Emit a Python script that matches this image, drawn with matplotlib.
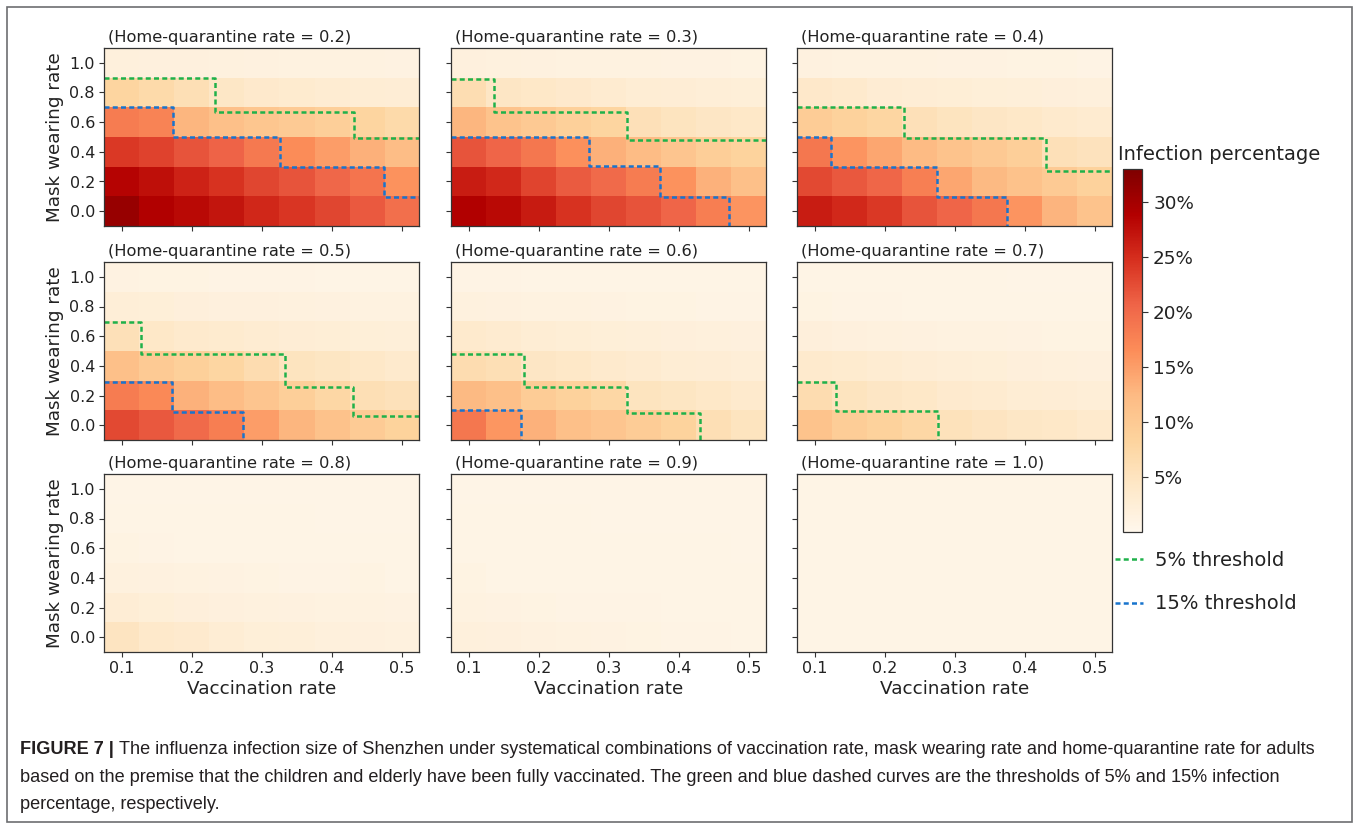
import numpy as np
import matplotlib
matplotlib.use("Agg")
import matplotlib.pyplot as plt
from matplotlib.lines import Line2D
from matplotlib.patches import Rectangle

# Eixos dos mapas de calor
vacc_rate = [0.1, 0.15, 0.2, 0.25, 0.3, 0.35, 0.4, 0.45, 0.5]
mask_rate = [0.0, 0.2, 0.4, 0.6, 0.8, 1.0]
hq_rates = [0.2, 0.3, 0.4, 0.5, 0.6, 0.7, 0.8, 0.9, 1.0]

# Percentual de infecção (linhas = máscara 0.0 -> 1.0, colunas = vacinação 0.1 -> 0.5)
inf_hq02 = [
    [31.0, 29.0, 28.0, 27.0, 25.5, 24.3, 23.0, 21.5, 19.5],
    [28.5, 27.5, 25.8, 24.5, 23.0, 21.8, 20.3, 19.0, 16.0],
    [24.0, 23.3, 21.8, 20.7, 18.5, 16.5, 15.0, 13.3, 12.0],
    [18.2, 17.5, 12.8, 11.5, 10.5, 9.8, 9.0, 8.0, 7.0],
    [8.0, 7.0, 6.0, 4.3, 3.7, 3.3, 3.0, 2.8, 2.6],
    [1.9, 1.8, 1.7, 1.6, 1.5, 1.4, 1.3, 1.3, 1.2],
]
inf_hq03 = [
    [29.0, 28.0, 26.5, 24.6, 23.0, 22.0, 20.5, 18.0, 15.8],
    [26.3, 25.3, 23.2, 21.3, 20.0, 18.3, 16.0, 13.2, 11.5],
    [21.8, 20.6, 18.8, 16.2, 13.3, 12.2, 10.6, 9.2, 8.3],
    [12.8, 11.0, 10.0, 8.8, 8.1, 5.8, 5.0, 4.5, 4.0],
    [6.2, 4.4, 4.0, 3.7, 3.1, 2.8, 2.6, 2.4, 2.2],
    [1.7, 1.6, 1.5, 1.4, 1.3, 1.3, 1.2, 1.2, 1.1],
]
inf_hq04 = [
    [26.4, 25.3, 24.0, 21.8, 20.6, 18.8, 15.8, 12.9, 11.0],
    [22.8, 21.6, 20.4, 17.8, 14.3, 12.5, 11.2, 9.8, 8.6],
    [18.8, 15.8, 14.3, 12.3, 11.0, 10.0, 9.0, 5.8, 5.2],
    [9.5, 8.6, 7.8, 5.8, 5.0, 4.5, 4.0, 3.5, 3.1],
    [3.9, 3.5, 2.9, 2.7, 2.5, 2.3, 2.1, 2.0, 1.9],
    [1.5, 1.4, 1.3, 1.3, 1.2, 1.2, 1.1, 1.1, 1.0],
]
inf_hq05 = [
    [22.8, 21.6, 20.0, 18.0, 15.0, 12.8, 11.2, 9.6, 8.5],
    [18.3, 16.8, 13.2, 12.0, 10.6, 9.0, 7.5, 6.0, 5.5],
    [11.5, 9.8, 8.8, 7.8, 6.5, 5.0, 4.6, 4.0, 3.6],
    [5.8, 4.0, 3.6, 3.3, 3.0, 2.7, 2.5, 2.3, 2.1],
    [2.4, 2.2, 2.0, 1.8, 1.7, 1.6, 1.5, 1.4, 1.3],
    [1.2, 1.1, 1.1, 1.0, 1.0, 1.0, 0.9, 0.9, 0.9],
]
inf_hq06 = [
    [18.8, 15.6, 13.2, 11.5, 10.6, 9.5, 8.3, 6.0, 5.0],
    [12.5, 11.5, 9.5, 8.6, 7.5, 5.0, 4.6, 4.0, 3.6],
    [6.5, 6.0, 4.4, 4.0, 3.5, 3.1, 2.8, 2.6, 2.4],
    [3.6, 3.2, 2.8, 2.5, 2.3, 2.1, 2.0, 1.9, 1.8],
    [1.6, 1.5, 1.4, 1.3, 1.2, 1.1, 1.1, 1.0, 1.0],
    [1.0, 1.0, 0.9, 0.9, 0.9, 0.8, 0.8, 0.8, 0.8],
]
inf_hq07 = [
    [11.0, 9.3, 8.6, 7.6, 5.4, 4.8, 4.3, 4.0, 3.6],
    [6.5, 4.9, 4.4, 4.0, 3.4, 3.1, 2.8, 2.6, 2.4],
    [3.6, 3.3, 3.0, 2.7, 2.4, 2.2, 2.0, 1.9, 1.8],
    [2.0, 1.8, 1.6, 1.5, 1.4, 1.3, 1.2, 1.1, 1.1],
    [1.1, 1.0, 1.0, 0.9, 0.9, 0.9, 0.8, 0.8, 0.8],
    [0.8, 0.8, 0.8, 0.8, 0.8, 0.8, 0.7, 0.7, 0.7],
]
inf_hq08 = [
    [4.8, 3.8, 3.4, 2.8, 2.3, 2.1, 1.9, 1.7, 1.6],
    [2.6, 2.3, 2.0, 1.8, 1.6, 1.5, 1.4, 1.3, 1.2],
    [1.6, 1.5, 1.4, 1.2, 1.1, 1.0, 1.0, 1.1, 0.9],
    [1.1, 1.0, 0.9, 0.9, 0.9, 0.8, 0.8, 0.8, 0.8],
    [0.9, 0.8, 0.8, 0.8, 0.8, 0.8, 0.7, 0.7, 0.7],
    [0.7, 0.7, 0.7, 0.7, 0.7, 0.7, 0.7, 0.7, 0.7],
]
inf_hq09 = [
    [1.9, 1.7, 1.5, 1.4, 1.2, 1.1, 1.0, 1.0, 0.9],
    [1.4, 1.2, 1.1, 1.0, 1.0, 1.0, 0.9, 0.9, 0.9],
    [1.1, 0.9, 0.9, 0.9, 0.8, 0.8, 0.8, 0.8, 0.8],
    [0.9, 0.8, 0.8, 0.8, 0.8, 0.8, 0.8, 0.8, 0.7],
    [0.8, 0.8, 0.8, 0.8, 0.7, 0.7, 0.7, 0.7, 0.7],
    [0.7, 0.7, 0.7, 0.7, 0.7, 0.7, 0.7, 0.7, 0.7],
]
inf_hq10 = [
    [0.9, 0.9, 0.9, 0.9, 0.9, 0.8, 0.8, 0.8, 0.8],
    [0.8, 0.8, 0.8, 0.8, 0.8, 0.8, 0.8, 0.8, 0.8],
    [0.8, 0.8, 0.8, 0.8, 0.8, 0.8, 0.8, 0.8, 0.8],
    [0.8, 0.8, 0.8, 0.8, 0.8, 0.8, 0.8, 0.8, 0.8],
    [0.8, 0.8, 0.8, 0.8, 0.8, 0.8, 0.8, 0.8, 0.8],
    [0.8, 0.8, 0.8, 0.8, 0.8, 0.8, 0.8, 0.8, 0.8],
]
infection = [inf_hq02, inf_hq03, inf_hq04, inf_hq05, inf_hq06,
             inf_hq07, inf_hq08, inf_hq09, inf_hq10]

# Curvas de limiar (degraus, drawstyle steps-post): vacinação x máscara
thr5_x = [
    [0.075, 0.234, 0.432, 0.525],
    [0.075, 0.136, 0.327, 0.525],
    [0.075, 0.228, 0.430, 0.525],
    [0.075, 0.128, 0.333, 0.430, 0.525],
    [0.075, 0.179, 0.327, 0.430, 0.430],
    [0.075, 0.130, 0.277, 0.277],
    None, None, None,
]
thr5_y = [
    [0.900, 0.670, 0.494, 0.494],
    [0.894, 0.666, 0.483, 0.483],
    [0.700, 0.490, 0.273, 0.273],
    [0.694, 0.483, 0.260, 0.065, 0.065],
    [0.479, 0.254, 0.083, -0.1, -0.1],
    [0.292, 0.097, -0.1, -0.1],
    None, None, None,
]
thr15_x = [
    [0.075, 0.173, 0.326, 0.475, 0.525],
    [0.075, 0.272, 0.373, 0.472, 0.472],
    [0.075, 0.124, 0.275, 0.375, 0.375],
    [0.075, 0.172, 0.274, 0.274],
    [0.075, 0.175, 0.175],
    None, None, None, None,
]
thr15_y = [
    [0.700, 0.497, 0.300, 0.097, 0.097],
    [0.497, 0.302, 0.097, -0.1, -0.1],
    [0.500, 0.300, 0.097, -0.1, -0.1],
    [0.290, 0.088, -0.1, -0.1],
    [0.099, -0.1, -0.1],
    None, None, None, None,
]

cbar_ticks = [5, 10, 15, 20, 25, 30]
green = "#1fb14a"
blue = "#1874cd"

W, H = 1357, 823
fig = plt.figure(figsize=(W / 100, H / 100), dpi=100)
plt.rcParams["font.family"] = "DejaVu Sans"

col_left = [104, 451, 797]
row_top = [48, 262, 474]
ax_w, ax_h = 315, 178

dx = (vacc_rate[1] - vacc_rate[0]) / 2
dy = (mask_rate[1] - mask_rate[0]) / 2
extent = [vacc_rate[0] - dx, vacc_rate[-1] + dx, mask_rate[0] - dy, mask_rate[-1] + dy]

dash = (0, (2.0, 1.3))
for k in range(9):
    r, c = divmod(k, 3)
    ax = fig.add_axes([col_left[c] / W, 1 - (row_top[r] + ax_h) / H, ax_w / W, ax_h / H])
    im = ax.imshow(np.array(infection[k]), origin="lower", extent=extent, aspect="auto",
                   cmap="OrRd", vmin=0, vmax=33, interpolation="nearest")
    if thr5_x[k] is not None:
        ax.plot(thr5_x[k], thr5_y[k], drawstyle="steps-post", color=green, lw=1.8, linestyle=dash)
    if thr15_x[k] is not None:
        ax.plot(thr15_x[k], thr15_y[k], drawstyle="steps-post", color=blue, lw=1.8, linestyle=dash)
    ax.set_xlim(extent[0], extent[1])
    ax.set_ylim(extent[2], extent[3])
    ax.set_xticks([0.1, 0.2, 0.3, 0.4, 0.5])
    ax.set_yticks([0.0, 0.2, 0.4, 0.6, 0.8, 1.0])
    ax.tick_params(direction="out", length=3.5, width=0.8, color="#333333",
                   labelsize=11.5, labelcolor="#222222", pad=3)
    if c == 0:
        ax.set_yticklabels(["%.1f" % v for v in [0.0, 0.2, 0.4, 0.6, 0.8, 1.0]])
        ax.set_ylabel("Mask wearing rate", fontsize=13.2, color="#222222", labelpad=4)
    else:
        ax.set_yticklabels([])
    if r == 2:
        ax.set_xticklabels(["%.1f" % v for v in [0.1, 0.2, 0.3, 0.4, 0.5]])
        ax.set_xlabel("Vaccination rate", fontsize=13.2, color="#222222", labelpad=3)
    else:
        ax.set_xticklabels([])
    for s in ax.spines.values():
        s.set_color("#333333")
        s.set_linewidth(0.9)
    ax.text(0.012, 1.035, "(Home-quarantine rate = %.1f)" % hq_rates[k], transform=ax.transAxes,
            ha="left", va="baseline", fontsize=11.7, color="#222222")

# Barra de cores
cax = fig.add_axes([1123 / W, 1 - 532 / H, 19 / W, 363 / H])
cb = fig.colorbar(im, cax=cax, ticks=cbar_ticks)
cb.ax.set_yticklabels(["%d%%" % t for t in cbar_ticks])
cb.ax.tick_params(labelsize=13.2, length=4, width=0.8, color="#333333", labelcolor="#222222", pad=4)
cb.outline.set_edgecolor("#333333")
cb.outline.set_linewidth(0.9)
cax.set_title("Infection percentage", loc="left", pad=6.5, fontsize=14, color="#222222", x=-0.25)

# Legenda dos limiares
handles = [Line2D([], [], color=green, lw=1.8, linestyle=dash),
           Line2D([], [], color=blue, lw=1.8, linestyle=dash)]
fig.legend(handles, ["5% threshold", "15% threshold"], loc="upper left",
           bbox_to_anchor=(1115 / W, 1 - 551 / H), frameon=False, fontsize=14,
           handlelength=1.45, handletextpad=0.62, labelspacing=1.25,
           borderpad=0, borderaxespad=0, labelcolor="#222222")

# Moldura e legenda da figura
fig.add_artist(Rectangle((7 / W, 1 / H), 1345 / W, 815 / H, transform=fig.transFigure,
                         fill=False, edgecolor="#6d6e71", lw=1.2))

cap_font = ["Liberation Sans", "DejaVu Sans"]
cap_size = 13.05
cap_color = "#231f20"
x0 = 20 / W
t_bold = fig.text(x0, 1 - 754 / H, "FIGURE 7 |", family=cap_font, fontweight="bold",
                  fontsize=cap_size, color=cap_color, va="baseline")
fig.canvas.draw()
bb = t_bold.get_window_extent()
fig.text((bb.x1 + 5) / W, 1 - 754 / H,
         "The influenza infection size of Shenzhen under systematical combinations of vaccination rate, "
         "mask wearing rate and home-quarantine rate for adults",
         family=cap_font, fontsize=cap_size, color=cap_color, va="baseline")
fig.text(x0, 1 - 782 / H,
         "based on the premise that the children and elderly have been fully vaccinated. "
         "The green and blue dashed curves are the thresholds of 5% and 15% infection",
         family=cap_font, fontsize=cap_size, color=cap_color, va="baseline")
fig.text(x0, 1 - 809 / H, "percentage, respectively.",
         family=cap_font, fontsize=cap_size, color=cap_color, va="baseline")

fig.savefig("out.png", dpi=100)
